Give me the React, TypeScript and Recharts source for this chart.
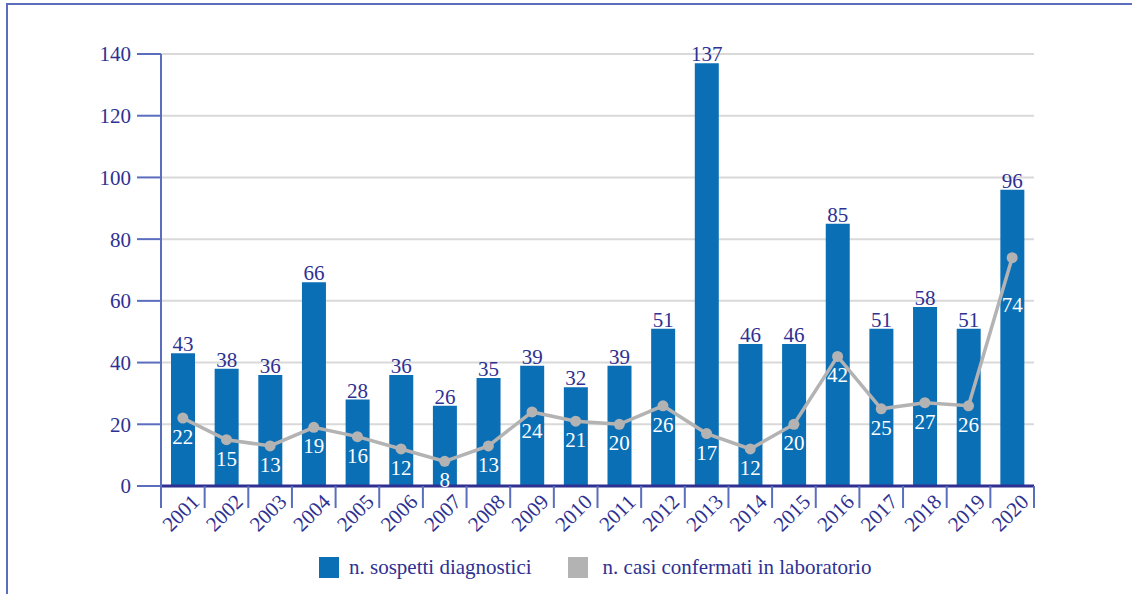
import React from "react";
import {
  ComposedChart,
  Bar,
  Line,
  XAxis,
  YAxis,
  CartesianGrid,
  LabelList,
} from "recharts";

const years = [
  "2001", "2002", "2003", "2004", "2005", "2006", "2007", "2008", "2009", "2010",
  "2011", "2012", "2013", "2014", "2015", "2016", "2017", "2018", "2019", "2020",
];
const sospetti = [43, 38, 36, 66, 28, 36, 26, 35, 39, 32, 39, 51, 137, 46, 46, 85, 51, 58, 51, 96];
const confermati = [22, 15, 13, 19, 16, 12, 8, 13, 24, 21, 20, 26, 17, 12, 20, 42, 25, 27, 26, 74];
const yTicks = [0, 20, 40, 60, 80, 100, 120, 140];
const seriesNames = ["n. sospetti diagnostici", "n. casi confermati in laboratorio"];

const data = years.map((y, i) => ({ year: y, sospetti: sospetti[i], confermati: confermati[i] }));

const W = 1132;
const H = 594;
const M = { top: 54, right: 98, left: 0, bottom: 0 };
const Y_AXIS_W = 161;
const X_AXIS_H = 108;
const PLOT_W = W - M.left - M.right - Y_AXIS_W;
const PLOT_BOTTOM = H - M.bottom - X_AXIS_H;
const HALF_BAND = PLOT_W / years.length / 2;

const NAVY = "#2e3192";
const AXIS_BLUE = "#5a6ebd";
const BAR = "#0b6fb6";
const GRAY = "#b3b3b3";
const FONT = "Liberation Serif, DejaVu Serif, serif";

const XTick = (props: any) => {
  const { x, index, payload } = props;
  const last = index === years.length - 1;
  return (
    <g>
      <line x1={x - HALF_BAND} x2={x - HALF_BAND} y1={PLOT_BOTTOM} y2={PLOT_BOTTOM + 22} stroke={AXIS_BLUE} strokeWidth={2} />
      {last && (
        <line x1={x + HALF_BAND} x2={x + HALF_BAND} y1={PLOT_BOTTOM} y2={PLOT_BOTTOM + 22} stroke={AXIS_BLUE} strokeWidth={2} />
      )}
      <text
        x={x - 2}
        y={PLOT_BOTTOM + 27}
        transform={`rotate(-45, ${x - 2}, ${PLOT_BOTTOM + 27})`}
        textAnchor="middle"
        dominantBaseline="central"
        fill={NAVY}
        style={{ fontFamily: FONT, fontSize: 21 }}
      >
        {payload.value}
      </text>
    </g>
  );
};

const LineLabel = (props: any) => {
  const { x, y, value, index } = props;
  const dy = index === years.length - 1 ? 47 : 19;
  return (
    <text
      x={x}
      y={y + dy}
      textAnchor="middle"
      dominantBaseline="central"
      fill="#ffffff"
      style={{ fontFamily: FONT, fontSize: 21 }}
    >
      {value}
    </text>
  );
};

export default function App() {
  return (
    <div
      style={{
        position: "fixed",
        left: 0,
        top: 0,
        width: W,
        height: H,
        overflow: "hidden",
        background: "#ffffff",
        fontFamily: FONT,
      }}
    >
      <div
        style={{
          position: "absolute",
          left: 6,
          top: 3,
          width: 1400,
          height: 900,
          borderLeft: `2px solid ${AXIS_BLUE}`,
          borderTop: `2px solid ${AXIS_BLUE}`,
        }}
      />
      <div style={{ position: "absolute", left: 0, top: 0 }}>
        <ComposedChart width={W} height={H} data={data} margin={M} style={{ fontFamily: FONT }}>
          <CartesianGrid horizontal vertical={false} stroke="#d9d9d9" strokeWidth={2} />
          <XAxis
            dataKey="year"
            height={X_AXIS_H}
            interval={0}
            tickLine={false}
            axisLine={{ stroke: NAVY, strokeWidth: 3 }}
            tick={<XTick />}
          />
          <YAxis
            width={Y_AXIS_W}
            domain={[0, 140]}
            ticks={yTicks}
            interval={0}
            tickSize={24}
            tickMargin={6}
            axisLine={{ stroke: AXIS_BLUE, strokeWidth: 2 }}
            tickLine={{ stroke: AXIS_BLUE, strokeWidth: 2 }}
            tick={{ fill: NAVY, fontSize: 21, style: { fontFamily: FONT } }}
          />
          <Bar dataKey="sospetti" name={seriesNames[0]} fill={BAR} barSize={24} isAnimationActive={false}>
            <LabelList
              dataKey="sospetti"
              position="top"
              offset={2}
              fill={NAVY}
              fontSize={21}
              style={{ fontFamily: FONT }}
            />
          </Bar>
          <Line
            dataKey="confermati"
            name={seriesNames[1]}
            stroke={GRAY}
            strokeWidth={3.5}
            dot={{ r: 5.5, fill: GRAY, stroke: "none" }}
            activeDot={false}
            isAnimationActive={false}
          >
            <LabelList dataKey="confermati" content={<LineLabel />} />
          </Line>
        </ComposedChart>
      </div>
      <div
        style={{
          position: "absolute",
          top: 556,
          left: 319,
          display: "flex",
          alignItems: "center",
          fontFamily: FONT,
          fontSize: 21,
          color: NAVY,
          lineHeight: "22px",
          whiteSpace: "nowrap",
        }}
      >
        <span style={{ display: "inline-block", width: 20, height: 21, background: BAR, marginRight: 10 }} />
        <span style={{ marginRight: 36 }}>{seriesNames[0]}</span>
        <span style={{ display: "inline-block", width: 20, height: 21, background: GRAY, marginRight: 15 }} />
        <span>{seriesNames[1]}</span>
      </div>
    </div>
  );
}
